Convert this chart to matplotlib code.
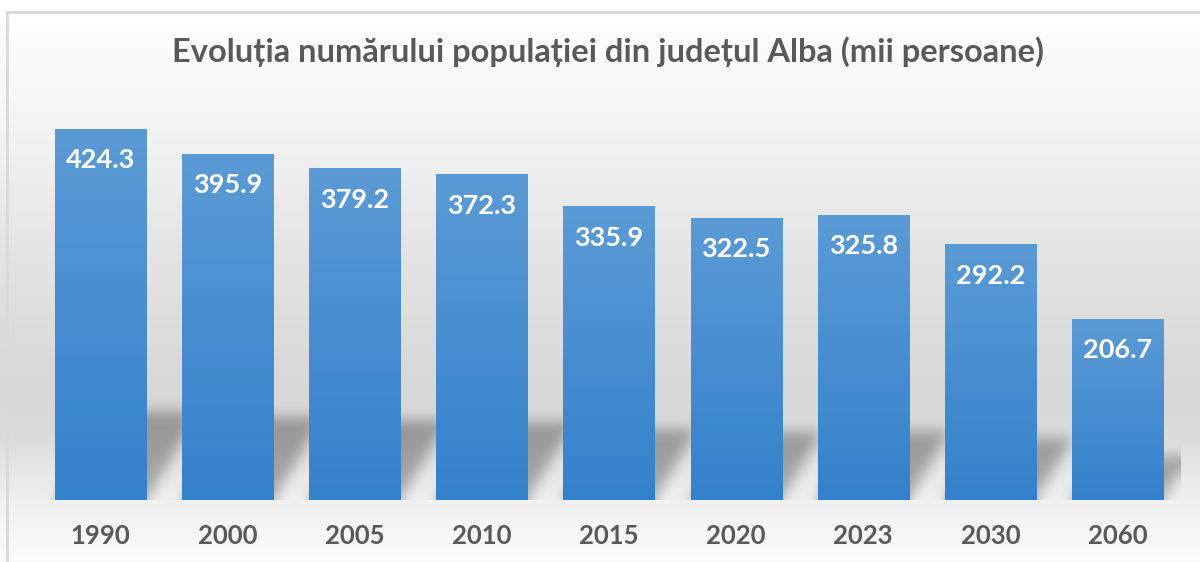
import numpy as np
import matplotlib
matplotlib.use("Agg")
import matplotlib.pyplot as plt
from matplotlib.colors import LinearSegmentedColormap

plt.rcParams['font.family'] = ['Lato', 'DejaVu Sans']

# date
ani = ['1990', '2000', '2005', '2010', '2015', '2020', '2023', '2030', '2060']
populatie = [424.3, 395.9, 379.2, 372.3, 335.9, 322.5, 325.8, 292.2, 206.7]
titlu = 'Evoluția numărului populației din județul Alba (mii persoane)'

W_PX, H_PX = 1200, 562
fig = plt.figure(figsize=(12, 5.62), dpi=100)

# fundal cu gradient (tot graficul)
bg = fig.add_axes([0, 0, 1, 1], zorder=-10)
stops_y = np.array([0, 12, 100, 250, 390, 430, 500, 562])
stops_g = np.array([255, 255, 247, 228, 215, 218, 240, 252])
rows = np.interp(np.arange(H_PX), stops_y, stops_g) / 255.0
grad = np.repeat(rows[:, None], 4, axis=1)
bg.imshow(np.dstack([grad, grad, grad]), extent=[0, 1, 0, 1], aspect='auto')
bg.plot([7 / W_PX, 7 / W_PX], [0, 1 - 12 / H_PX], color='#d9d9d9', lw=2)
bg.plot([7 / W_PX, 1], [1 - 12 / H_PX, 1 - 12 / H_PX], color='#d9d9d9', lw=2)
bg.set_xlim(0, 1)
bg.set_ylim(0, 1)
bg.axis('off')

fig.text(608 / W_PX, 1 - 52 / H_PX, titlu, ha='center', va='center',
         fontsize=23.5, fontweight='bold', color='#595959')

# zona graficului
ax_l, ax_b, ax_w, ax_h = 37, 62, 1144, 400
ax = fig.add_axes([ax_l / W_PX, ax_b / H_PX, ax_w / W_PX, ax_h / H_PX])
ax.patch.set_alpha(0)
ymax = 457.4
x = np.arange(len(ani))
latime = 0.716

# umbra in perspectiva (estompata)
H, W = ax_h, ax_w
xs = np.linspace(-0.5, len(ani) - 0.5, W)
ys = np.linspace(ymax, 0, H)
X, Y = np.meshgrid(xs, ys)
px_per_x = ax_w / len(ani)
px_per_y = ax_h / ymax
mask = np.zeros((H, W))
for xi, v in zip(x, populatie):
    hs = 0.24 * v
    shift = 0.6 * Y * px_per_y / px_per_x
    inside = (Y <= hs) & (X >= xi - latime / 2 + shift) & (X <= xi + latime / 2 + shift)
    mask[inside] = 1.0


def box(a, r, axis):
    a = np.moveaxis(a, axis, -1)
    p = np.pad(a, [(0, 0), (r + 1, r)], mode='edge')
    c = np.cumsum(p, axis=-1)
    out = (c[:, 2 * r + 1:] - c[:, :-2 * r - 1]) / (2 * r + 1)
    return np.moveaxis(out, -1, axis)


for _ in range(3):
    mask = box(mask, 6, 1)
    mask = box(mask, 6, 0)

umbra = np.zeros((H, W, 4))
umbra[..., 3] = np.clip(mask * 0.3, 0, 1)
ax.imshow(umbra, extent=[-0.5, len(ani) - 0.5, 0, ymax], aspect='auto', zorder=1)

# bare cu gradient
cmap = LinearSegmentedColormap.from_list('bara', ['#3481cb', '#5b9bd5'])
bars = ax.bar(x, populatie, width=latime, color='none', zorder=2)
gv = np.linspace(0, 1, 256)[::-1].reshape(-1, 1)
for b in bars:
    im = ax.imshow(gv, cmap=cmap, aspect='auto', zorder=2,
                   extent=[b.get_x(), b.get_x() + b.get_width(), 0, b.get_height()])
    im.set_clip_path(b)

for xi, v in zip(x, populatie):
    ax.annotate(f'{v:.1f}', xy=(xi, v), xytext=(0, -22.5), textcoords='offset points',
                ha='center', va='center', fontsize=19.5, fontweight='bold',
                color='white', zorder=3)

ax.set_xlim(-0.5, len(ani) - 0.5)
ax.set_ylim(0, ymax)
ax.set_xticks(x)
ax.set_xticklabels(ani, fontsize=18.5, fontweight='bold', color='#595959')
ax.tick_params(axis='x', length=0, pad=17)
ax.set_yticks([])
for s in ax.spines.values():
    s.set_visible(False)

fig.savefig('out.png', dpi=100)
